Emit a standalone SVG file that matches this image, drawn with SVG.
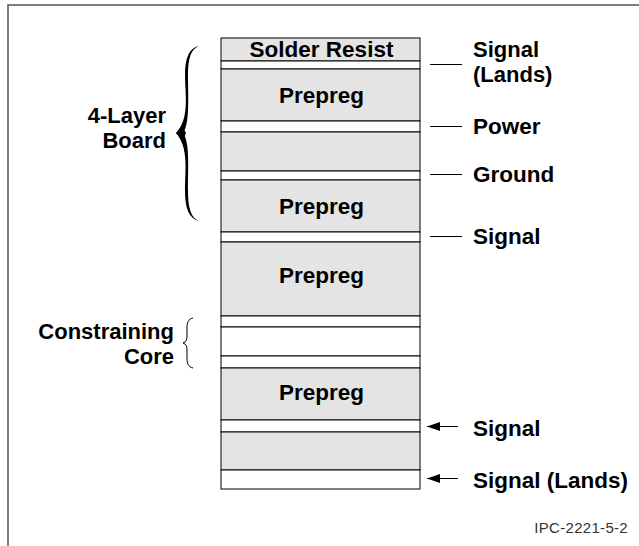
<svg xmlns="http://www.w3.org/2000/svg" width="639" height="546" viewBox="0 0 639 546">
<defs>
<style>
.g{fill:#e4e4e4;stroke:#000;stroke-width:1}
.w{fill:#fff;stroke:#000;stroke-width:1}
.t{font-family:"Liberation Sans",Arial,sans-serif;font-weight:bold;font-size:22.5px;fill:#000}
.s{font-size:22px}
.c{text-anchor:middle}
.e{text-anchor:end}
.ln{stroke:#000;stroke-width:1;fill:none}
</style>
<marker id="ah" viewBox="0 0 13 9" refX="0" refY="4.5" markerWidth="13" markerHeight="9" markerUnits="userSpaceOnUse" orient="auto">
<path d="M0,4.5 L13,0 L13,9 Z" fill="#000"/>
</marker>
</defs>
<rect x="0" y="0" width="639" height="546" fill="#fff"/>
<rect x="8" y="5" width="650" height="560" fill="none" stroke="#555" stroke-width="1.5"/>

<g id="stack">
<rect id="solder-resist" class="g" x="221" y="38" width="199" height="23"/>
<rect class="w" x="221" y="61" width="199" height="8"/>
<rect id="prepreg1" class="g" x="221" y="69" width="199" height="52"/>
<rect class="w" x="221" y="121" width="199" height="11"/>
<rect class="g" x="221" y="132" width="199" height="39"/>
<rect class="w" x="221" y="171" width="199" height="9"/>
<rect id="prepreg2" class="g" x="221" y="180" width="199" height="52"/>
<rect class="w" x="221" y="232" width="199" height="10"/>
<rect id="prepreg3" class="g" x="221" y="242" width="199" height="74"/>
<rect class="w" x="221" y="316" width="199" height="11"/>
<rect id="core" class="w" x="221" y="327" width="199" height="29"/>
<rect class="w" x="221" y="356" width="199" height="12"/>
<rect id="prepreg4" class="g" x="221" y="368" width="199" height="52"/>
<rect class="w" x="221" y="420" width="199" height="12"/>
<rect class="g" x="221" y="432" width="199" height="38"/>
<rect class="w" x="221" y="470" width="199" height="19"/>
<text class="t c" x="321.5" y="56.5" font-size="19.5">Solder Resist</text>
<text class="t c" x="321.5" y="103">Prepreg</text>
<text class="t c" x="321.5" y="214">Prepreg</text>
<text class="t c" x="321.5" y="283">Prepreg</text>
<text class="t c" x="321.5" y="400">Prepreg</text>
</g>

<g id="label-4layer">
<path d="M199,46 C189,48 185,58 185,75 C185,95 190,118 176,133 C189,148 185,171 185,191 C185,208 189,219 199,221 C191,218 188,208 188,191 C188,168 190,142 183,133 C190,124 188,96 188,75 C188,58 191,49 199,46 Z" fill="#000"/>
<path d="M176,133 L183,128 L186,133 L183,139 Z" fill="#000"/>
<text class="t s e" x="166" y="123">4-Layer</text>
<text class="t s e" x="166" y="148">Board</text>
</g>

<g id="label-core">
<path d="M193,318 C188,319 187,323 187,328 L187,336 C187,340 186,342 183,343 C186,344 187,346 187,350 L187,358 C187,363 188,367 193,368" class="ln" stroke-width="1.2"/>
<text class="t s e" x="174" y="339">Constraining</text>
<text class="t s e" x="174" y="364">Core</text>
</g>

<g id="connectors">
<line class="ln" x1="430" y1="64.5" x2="462" y2="64.5"/>
<line class="ln" x1="430" y1="126.5" x2="462" y2="126.5"/>
<line class="ln" x1="430" y1="174.5" x2="462" y2="174.5"/>
<line class="ln" x1="430" y1="236.5" x2="462" y2="236.5"/>
<line class="ln" x1="427" y1="426.5" x2="458" y2="426.5" marker-start="url(#ah)"/>
<line class="ln" x1="427" y1="478.5" x2="458" y2="478.5" marker-start="url(#ah)"/>
</g>

<g id="label-signal-lands-top"><text class="t s" x="473" y="57">Signal</text><text class="t s" x="473" y="82">(Lands)</text></g>
<g id="label-power"><text class="t" x="473" y="134">Power</text></g>
<g id="label-ground"><text class="t" x="473" y="182">Ground</text></g>
<g id="label-signal-mid"><text class="t" x="473" y="244">Signal</text></g>
<g id="label-signal-bot"><text class="t" x="473" y="436">Signal</text></g>
<g id="label-signal-lands-bot"><text class="t" x="473" y="488">Signal (Lands)</text></g>
<text x="628" y="533" text-anchor="end" font-family="'Liberation Sans',Arial,sans-serif" font-size="15" letter-spacing="0.3" fill="#333">IPC-2221-5-2</text>
</svg>
